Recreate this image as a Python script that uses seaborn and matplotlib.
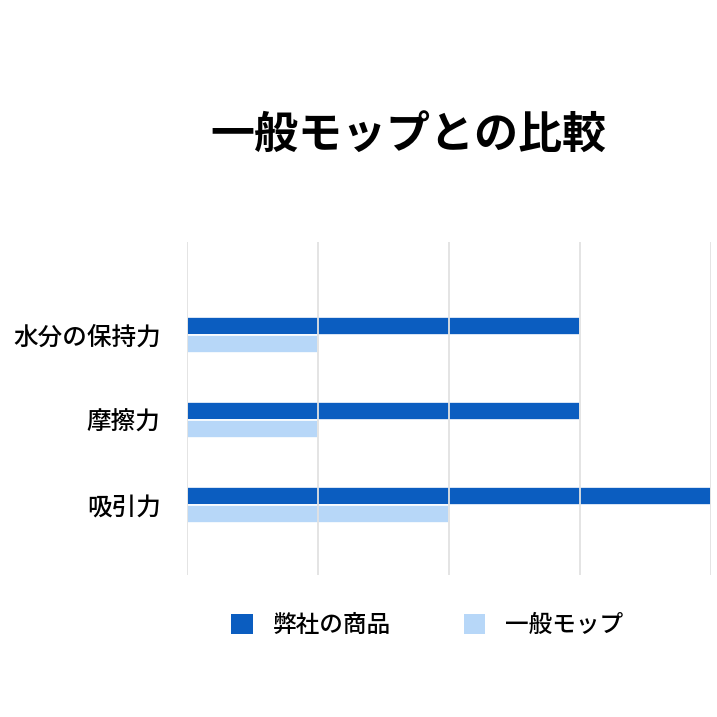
import matplotlib
matplotlib.use("Agg")
import matplotlib.pyplot as plt
import seaborn as sns
import pandas as pd
from matplotlib.patches import Patch

categories = ["水分の保持力", "摩擦力", "吸引力"]
series = ["弊社の商品", "一般モップ"]
ours = [3, 3, 4]
general = [1, 1, 2]
colors = ["#0b5dc0", "#b7d7f8"]

sns.set_style("white")
plt.rcParams["font.family"] = ["Noto Sans CJK JP", "DejaVu Sans"]
plt.rcParams["text.color"] = "black"
plt.rcParams["ytick.color"] = "black"

df = pd.DataFrame({
    "category": categories * 2,
    "series": [series[0]] * 3 + [series[1]] * 3,
    "value": ours + general,
})

fig = plt.figure(figsize=(7.17, 7.17), dpi=100)
ax = fig.add_axes([0.261, 0.198, 0.7306, 0.4645])

sns.barplot(data=df, y="category", x="value", hue="series", orient="h",
            palette=colors, saturation=1, width=0.42, edgecolor="white",
            linewidth=1.2, ax=ax, legend=False)

ax.set_xlim(0, 4)
ax.set_ylim(2.82, -1.09)
ax.set_xticks([0, 1, 2, 3, 4])
ax.set_xticklabels([])
ax.tick_params(axis="both", length=0)
ax.tick_params(axis="y", labelsize=17.7, pad=19, labelcolor="black")
for t in ax.get_yticklabels():
    t.set_fontweight("medium")
ax.set_xlabel("")
ax.set_ylabel("")
ax.grid(axis="x", color="#e2e2e2", linewidth=1.3)
ax.set_axisbelow(False)
for s in ax.spines.values():
    s.set_visible(False)

fig.text(0.569, 0.81, "一般モップとの比較", fontsize=31.7, fontweight="bold",
         ha="center", va="center", color="black")

handles = [Patch(facecolor=c, edgecolor="none") for c in colors]
leg = fig.legend(handles, series, loc="center", bbox_to_anchor=(0.596, 0.127),
                 ncol=2, frameon=False, fontsize=17, handlelength=0.9,
                 handleheight=0.9, handletextpad=0.85, columnspacing=3.1)
for t in leg.get_texts():
    t.set_fontweight("medium")

fig.savefig("out.png", dpi=100)
